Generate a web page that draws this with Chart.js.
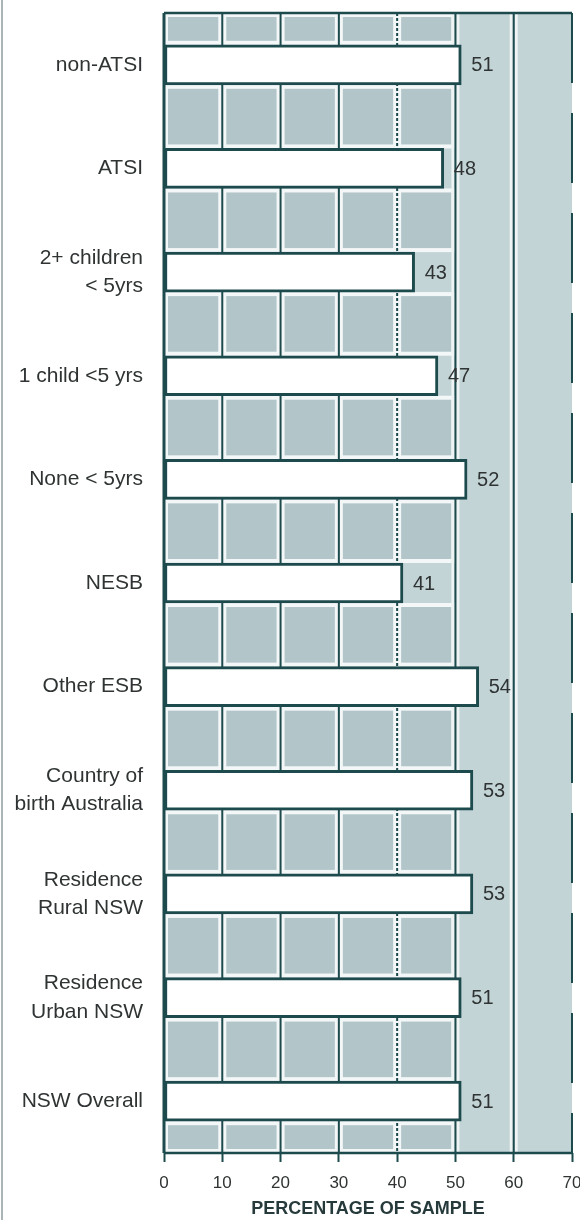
<!DOCTYPE html>
<html>
<head>
<meta charset="utf-8">
<script src="https://cdn.jsdelivr.net/npm/chart.js@4/dist/chart.umd.min.js"></script>
<style>
    html, body { margin: 0; padding: 0; background: #fff; }
    #wrap { position: relative; width: 580px; height: 1220px; }
    #edge { position: absolute; left: 1px; top: 0; width: 2px; height: 1220px; background: #a9b4b6; }
</style>
</head>
<body>
<div id="wrap">
    <div id="edge"></div>
    <canvas id="chart" width="580" height="1220"></canvas>
</div>
<script>
// data
var categories = [
    'non-ATSI',
    'ATSI',
    ['2+ children', '< 5yrs'],
    '1 child <5 yrs',
    'None < 5yrs',
    'NESB',
    'Other ESB',
    ['Country of', 'birth Australia'],
    ['Residence', 'Rural NSW'],
    ['Residence', 'Urban NSW'],
    'NSW Overall'
];
var percentValues = [51, 48, 43, 47, 52, 41, 54, 53, 53, 51, 51];
var xTicks = [0, 10, 20, 30, 40, 50, 60, 70];
var axisTitle = 'PERCENTAGE OF SAMPLE';

var INK = '#1d4a4c';
var TEXT = '#2f3333';
var TILE = '#b2c6ca';
var PALE = '#c3d4d7';
var FONT = '"Liberation Sans", Arial, sans-serif';

// paints the tiled backdrop, the grid and the frame behind the bars
var backdrop = {
    id: 'backdrop',
    beforeDatasetsDraw: function (chart) {
        var ctx = chart.ctx;
        var area = chart.chartArea;
        var xs = chart.scales.x;
        var bars = chart.getDatasetMeta(0).data;
        var x50 = xs.getPixelForValue(50);
        var i, c;

        ctx.save();
        ctx.fillStyle = PALE;
        ctx.fillRect(area.left, area.top, area.right - area.left, area.bottom - area.top);

        // bands between bars, 0-50 region
        var edges = [area.top];
        for (i = 0; i < bars.length; i++) {
            edges.push(bars[i].y - bars[i].height / 2);
            edges.push(bars[i].y + bars[i].height / 2);
        }
        edges.push(area.bottom);
        for (i = 0; i < edges.length; i += 2) {
            var top = edges[i], bot = edges[i + 1];
            ctx.fillStyle = '#f4f7f7';
            ctx.fillRect(area.left, top, x50 - area.left, bot - top);
            for (c = 0; c < 5; c++) {
                var l = xs.getPixelForValue(c * 10);
                var r = xs.getPixelForValue(c * 10 + 10);
                ctx.fillStyle = TILE;
                ctx.fillRect(l + 4, top + 4, r - l - 8, bot - top - 8);
            }
        }

        // white edges along the light columns
        ctx.fillStyle = '#eef3f3';
        [50, 60].forEach(function (v) {
            var px = xs.getPixelForValue(v);
            ctx.fillRect(px + 1, area.top, 3, area.bottom - area.top);
            ctx.fillRect(px - 4, area.top, 3, area.bottom - area.top);
        });

        // vertical rules
        ctx.strokeStyle = INK;
        xTicks.forEach(function (v) {
            var px = xs.getPixelForValue(v);
            ctx.lineWidth = v === 0 ? 3 : 2;
            ctx.setLineDash(v === 40 ? [3, 2] : (v === 70 ? [70, 30] : []));
            ctx.beginPath();
            ctx.moveTo(px, area.top);
            ctx.lineTo(px, area.bottom);
            ctx.stroke();
        });
        ctx.setLineDash([]);

        // top and bottom frame
        ctx.lineWidth = 2.5;
        ctx.beginPath();
        ctx.moveTo(area.left, area.top);
        ctx.lineTo(area.right, area.top);
        ctx.moveTo(area.left, area.bottom);
        ctx.lineTo(area.right, area.bottom);
        ctx.stroke();
        ctx.restore();
    },
    afterDatasetsDraw: function (chart) {
        var ctx = chart.ctx;
        var bars = chart.getDatasetMeta(0).data;
        ctx.save();
        ctx.font = '20px ' + FONT;
        ctx.fillStyle = TEXT;
        ctx.textAlign = 'left';
        ctx.textBaseline = 'middle';
        for (var i = 0; i < bars.length; i++) {
            ctx.fillText(String(percentValues[i]), bars[i].x + 10, bars[i].y + 1);
        }
        ctx.restore();
    }
};

var ctx = document.getElementById('chart').getContext('2d');
var chart = new Chart(ctx, {
    type: 'bar',
    data: {
        labels: categories,
        datasets: [{
            data: percentValues,
            backgroundColor: '#ffffff',
            borderColor: INK,
            borderWidth: 3,
            borderSkipped: false,
            barThickness: 40
        }]
    },
    options: {
        indexAxis: 'y',
        responsive: false,
        animation: false,
        layout: { padding: { left: 4, right: 8, top: 13, bottom: 0 } },
        plugins: {
            legend: { display: false },
            tooltip: { enabled: false }
        },
        scales: {
            x: {
                min: 0,
                max: 70,
                afterFit: function (scale) {
                    scale.height = 67;
                    scale.paddingLeft = 0;
                    scale.paddingRight = 0;
                },
                afterBuildTicks: function (scale) {
                    scale.ticks = xTicks.map(function (v) { return { value: v }; });
                },
                grid: {
                    drawOnChartArea: false,
                    drawTicks: true,
                    tickLength: 9,
                    tickColor: INK,
                    tickWidth: 2
                },
                border: { display: false },
                ticks: {
                    color: TEXT,
                    padding: 11,
                    font: { family: FONT, size: 17 }
                },
                title: {
                    display: true,
                    text: axisTitle,
                    color: '#263a3b',
                    padding: { top: 0, bottom: 0 },
                    font: { family: FONT, size: 18, weight: 'bold' }
                }
            },
            y: {
                afterFit: function (scale) {
                    scale.width = 160;
                    scale.paddingTop = 0;
                    scale.paddingBottom = 0;
                },
                grid: { display: false, drawTicks: false },
                border: { display: false },
                ticks: {
                    color: TEXT,
                    padding: 21,
                    font: { family: FONT, size: 21, lineHeight: 1.35 }
                }
            }
        }
    },
    plugins: [backdrop]
});
</script>
</body>
</html>
